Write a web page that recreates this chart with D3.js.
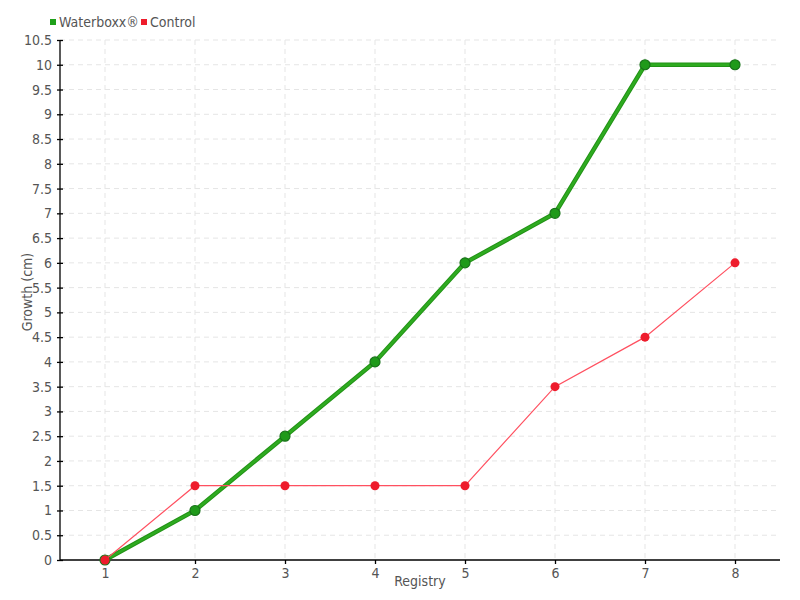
<!DOCTYPE html>
<html>
<head>
<meta charset="utf-8">
<script src="https://cdn.jsdelivr.net/npm/d3@7"></script>
<style>
  body { margin: 0; background: #fff; }
  text { font-family: "DejaVu Sans Condensed", "Liberation Sans Narrow", sans-serif; fill: #555; }
</style>
</head>
<body>
<svg id="chart" width="800" height="600"></svg>
<script>
// data
var registry = [1, 2, 3, 4, 5, 6, 7, 8];
var waterboxx = [0, 1, 2.5, 4, 6, 7, 10, 10];
var control = [0, 1.5, 1.5, 1.5, 1.5, 3.5, 4.5, 6];
var yTicks = d3.range(0, 10.51, 0.5);

var svg = d3.select("#chart");

var x = d3.scaleLinear().domain([0.5, 8.5]).range([60, 780]);
var y = d3.scaleLinear().domain([0, 10.5]).range([560, 40]);

// grid
svg.append("g").selectAll("line.h")
  .data(yTicks.slice(1))
  .enter().append("line")
  .attr("x1", 60).attr("x2", 780)
  .attr("y1", function(d) { return y(d); })
  .attr("y2", function(d) { return y(d); })
  .attr("stroke", "#e5e5e5").attr("stroke-dasharray", "5,4");

svg.append("g").selectAll("line.v")
  .data(registry)
  .enter().append("line")
  .attr("y1", 40).attr("y2", 560)
  .attr("x1", function(d) { return x(d); })
  .attr("x2", function(d) { return x(d); })
  .attr("stroke", "#e5e5e5").attr("stroke-dasharray", "5,4");

// axes
var yAxis = svg.append("g").attr("transform", "translate(60,0)")
  .call(d3.axisLeft(y).tickValues(yTicks).tickSize(4).tickPadding(4)
    .tickFormat(function(d) { return String(d); }));
var xAxis = svg.append("g").attr("transform", "translate(0,560)")
  .call(d3.axisBottom(x).tickValues(registry).tickSize(4).tickPadding(4));

[yAxis, xAxis].forEach(function(a) {
  a.select(".domain").attr("stroke", "#000").attr("stroke-width", 1.3);
  a.selectAll(".tick line").attr("stroke", "#000").attr("stroke-width", 1.3);
  a.selectAll("text").style("font-size", "14px").attr("fill", "#5a5a5a");
});
yAxis.selectAll(".tick line").attr("x2", -3).attr("x1", 3);
yAxis.select(".domain").attr("d", "M0,40V560");
xAxis.select(".domain").attr("d", "M60,0H780");

// axis titles
svg.append("text").attr("x", 420).attr("y", 586)
  .attr("text-anchor", "middle").style("font-size", "14px").text("Registry");
svg.append("text").attr("transform", "translate(32,292) rotate(-90)")
  .attr("text-anchor", "middle").style("font-size", "14px").text("Growth (cm)");

var line = d3.line()
  .x(function(d, i) { return x(registry[i]); })
  .y(function(d) { return y(d); });

// Waterboxx series
svg.append("path").datum(waterboxx)
  .attr("d", line).attr("fill", "none")
  .attr("stroke", "#229216").attr("stroke-width", 4.5);
svg.append("path").datum(waterboxx)
  .attr("d", line).attr("fill", "none")
  .attr("stroke", "#2eab20").attr("stroke-width", 2.5);
svg.append("g").selectAll("circle")
  .data(waterboxx).enter().append("circle")
  .attr("cx", function(d, i) { return x(registry[i]); })
  .attr("cy", function(d) { return y(d); })
  .attr("r", 5)
  .attr("fill", "#1f9a1a").attr("stroke", "#19731a").attr("stroke-width", 1.2);

// Control series
svg.append("path").datum(control)
  .attr("d", line).attr("fill", "none")
  .attr("stroke", "#ff5060").attr("stroke-width", 1.2);
svg.append("g").selectAll("circle")
  .data(control).enter().append("circle")
  .attr("cx", function(d, i) { return x(registry[i]); })
  .attr("cy", function(d) { return y(d); })
  .attr("r", 4.5)
  .attr("fill", "#ee1c2c");

// legend
var legend = [
  { name: "Waterboxx\u00ae", color: "#1fa01a", x: 50 },
  { name: "Control", color: "#ee1c2c", x: 141 }
];
var lg = svg.append("g").selectAll("g").data(legend).enter().append("g")
  .attr("transform", function(d) { return "translate(" + d.x + ",22)"; });
lg.append("rect").attr("x", 0).attr("y", -3).attr("width", 6).attr("height", 6)
  .attr("fill", function(d) { return d.color; });
lg.append("text").attr("x", 9).attr("y", 5).style("font-size", "14px")
  .text(function(d) { return d.name; });
</script>
</body>
</html>
